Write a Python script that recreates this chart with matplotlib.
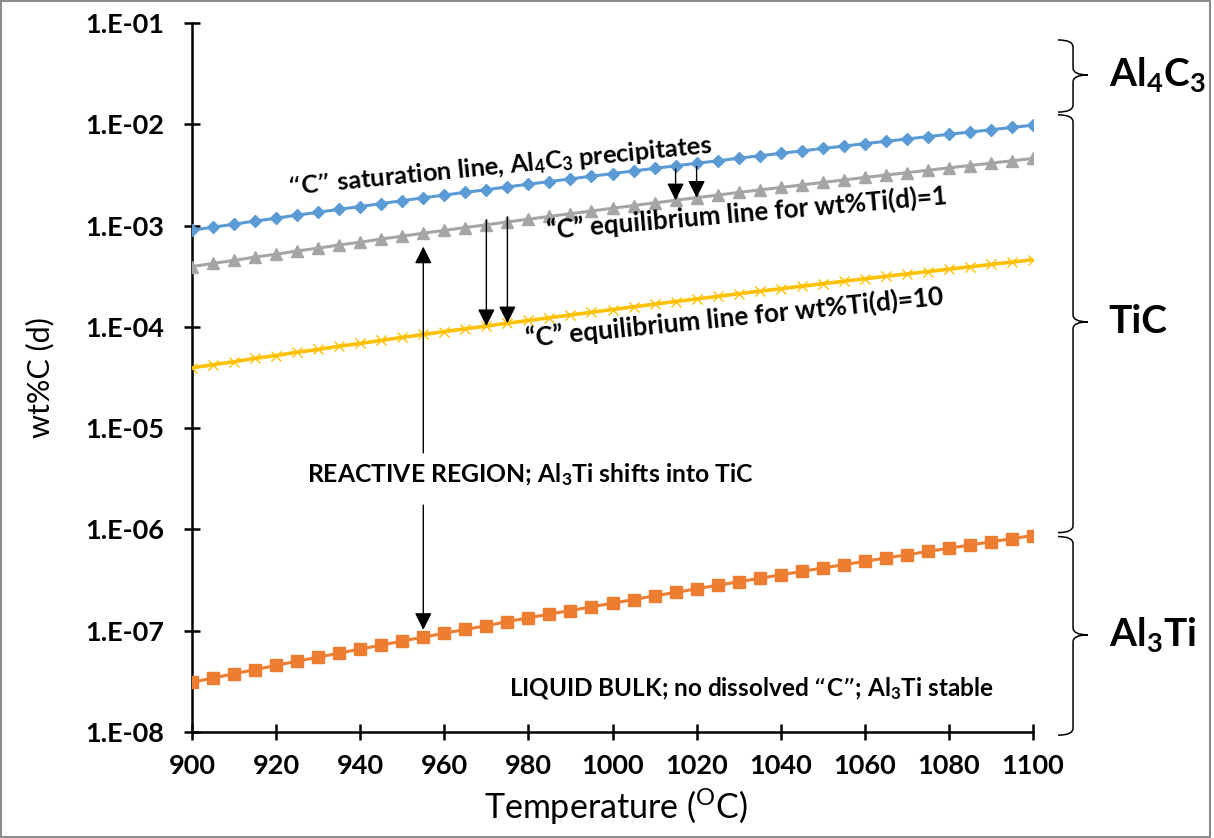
import matplotlib
matplotlib.use('Agg')
import matplotlib.pyplot as plt
from matplotlib.path import Path
from matplotlib.patches import PathPatch, Rectangle
import matplotlib.transforms as mtransforms
import numpy as np

plt.rcParams['font.family'] = ['Lato', 'DejaVu Sans']
plt.rcParams['mathtext.default'] = 'regular'

# ---------------- data ----------------
temperature = [900, 905, 910, 915, 920, 925, 930, 935, 940, 945,
               950, 955, 960, 965, 970, 975, 980, 985, 990, 995,
               1000, 1005, 1010, 1015, 1020, 1025, 1030, 1035, 1040, 1045,
               1050, 1055, 1060, 1065, 1070, 1075, 1080, 1085, 1090, 1095, 1100]

c_saturation = [9.00e-4, 9.64e-4, 1.03e-3, 1.11e-3, 1.18e-3, 1.27e-3, 1.35e-3, 1.45e-3, 1.54e-3, 1.65e-3,
                1.76e-3, 1.88e-3, 2.00e-3, 2.13e-3, 2.26e-3, 2.41e-3, 2.56e-3, 2.72e-3, 2.89e-3, 3.07e-3,
                3.26e-3, 3.46e-3, 3.67e-3, 3.89e-3, 4.12e-3, 4.36e-3, 4.62e-3, 4.89e-3, 5.16e-3, 5.46e-3,
                5.77e-3, 6.09e-3, 6.44e-3, 6.79e-3, 7.16e-3, 7.55e-3, 7.96e-3, 8.39e-3, 8.83e-3, 9.31e-3, 9.80e-3]

c_equil_ti1 = [3.94e-4, 4.23e-4, 4.53e-4, 4.89e-4, 5.21e-4, 5.62e-4, 5.98e-4, 6.44e-4, 6.85e-4, 7.36e-4,
               7.86e-4, 8.41e-4, 8.97e-4, 9.57e-4, 1.017e-3, 1.086e-3, 1.156e-3, 1.231e-3, 1.310e-3, 1.393e-3,
               1.482e-3, 1.576e-3, 1.674e-3, 1.778e-3, 1.886e-3, 1.999e-3, 2.122e-3, 2.249e-3, 2.377e-3, 2.519e-3,
               2.666e-3, 2.818e-3, 2.985e-3, 3.152e-3, 3.329e-3, 3.515e-3, 3.712e-3, 3.918e-3, 4.130e-3, 4.360e-3, 4.600e-3]

c_equil_ti10 = [3.94e-5, 4.23e-5, 4.53e-5, 4.89e-5, 5.21e-5, 5.62e-5, 5.98e-5, 6.44e-5, 6.85e-5, 7.36e-5,
                7.86e-5, 8.41e-5, 8.97e-5, 9.57e-5, 1.017e-4, 1.086e-4, 1.156e-4, 1.231e-4, 1.310e-4, 1.393e-4,
                1.482e-4, 1.576e-4, 1.674e-4, 1.778e-4, 1.886e-4, 1.999e-4, 2.122e-4, 2.249e-4, 2.377e-4, 2.519e-4,
                2.666e-4, 2.818e-4, 2.985e-4, 3.152e-4, 3.329e-4, 3.515e-4, 3.712e-4, 3.918e-4, 4.130e-4, 4.360e-4, 4.600e-4]

c_al3ti = [3.10e-8, 3.41e-8, 3.76e-8, 4.13e-8, 4.55e-8, 5.00e-8, 5.48e-8, 6.01e-8, 6.59e-8, 7.21e-8,
           7.90e-8, 8.65e-8, 9.44e-8, 1.03e-7, 1.12e-7, 1.23e-7, 1.34e-7, 1.46e-7, 1.58e-7, 1.72e-7,
           1.87e-7, 2.03e-7, 2.21e-7, 2.39e-7, 2.59e-7, 2.81e-7, 3.04e-7, 3.29e-7, 3.56e-7, 3.85e-7,
           4.16e-7, 4.49e-7, 4.84e-7, 5.22e-7, 5.62e-7, 6.06e-7, 6.52e-7, 7.01e-7, 7.55e-7, 8.11e-7, 8.71e-7]

x_ticks = [900, 920, 940, 960, 980, 1000, 1020, 1040, 1060, 1080, 1100]
y_ticks = [1e-8, 1e-7, 1e-6, 1e-5, 1e-4, 1e-3, 1e-2, 1e-1]
y_tick_labels = ['1.E-08', '1.E-07', '1.E-06', '1.E-05', '1.E-04', '1.E-03', '1.E-02', '1.E-01']

# phase region braces: (top, tip, bottom) in wt%C, and labels
brace_ranges = [(6.8e-2, 3.07e-2, 1.32e-2), (1.24e-2, 1.12e-4, 9.3e-7), (8.5e-7, 9.1e-8, 9.3e-9)]
brace_labels = ['Al$_4$C$_3$', 'TiC', 'Al$_3$Ti']

# ---------------- figure ----------------
W, H = 1214, 838
fig = plt.figure(figsize=(W / 100, H / 100), dpi=100)
ax = fig.add_axes([192 / W, (H - 732) / H, (1033 - 192) / W, (732 - 23) / H])

ax.plot(temperature, c_al3ti, color='#ED7D31', lw=2.2, marker='s', ms=8, mec='#ED7D31', zorder=3)
ax.plot(temperature, c_saturation, color='#5B9BD5', lw=2.2, marker='D', ms=6.3, mec='#5B9BD5', zorder=3)
ax.plot(temperature, c_equil_ti1, color='#A5A5A5', lw=2.2, marker='^', ms=9, mec='#A5A5A5', zorder=3)
ax.plot(temperature, c_equil_ti10, color='#FFC000', lw=2.6, marker='x', ms=7, mew=1.0, mec='#FFC000', zorder=3)

ax.set_yscale('log')
ax.set_xlim(900, 1100)
ax.set_ylim(1e-8, 1e-1)
ax.set_xticks(x_ticks)
ax.set_xticklabels([str(v) for v in x_ticks])
ax.set_yticks(y_ticks)
ax.set_yticklabels(y_tick_labels)
ax.yaxis.set_minor_locator(matplotlib.ticker.NullLocator())

for s in ['top', 'right']:
    ax.spines[s].set_visible(False)
for s in ['left', 'bottom']:
    ax.spines[s].set_linewidth(1.8)
ax.tick_params(axis='both', direction='inout', length=11.5, width=1.8, color='black')
ax.tick_params(axis='y', pad=14)
ax.tick_params(axis='x', pad=10)
for lab in ax.get_xticklabels() + ax.get_yticklabels():
    lab.set_fontsize(19.5)
    lab.set_fontweight('bold')

ax.set_ylabel('wt%C (d)', fontsize=22)
ax.yaxis.set_label_coords(-0.164, 0.5)
ax.set_xlabel('Temperature ($^{O}$C)', fontsize=24.5)
ax.xaxis.set_label_coords(0.504, -0.078)

# ---------------- annotations ----------------
ax.text(973.2, 3.85e-3, '“C” saturation line, Al$_4$C$_3$ precipitates', fontsize=18.3, fontweight='bold',
        rotation=5.7, rotation_mode='anchor', ha='center', va='center', zorder=5)
ax.text(1032, 1.33e-3, '“C” equilibrium line for wt%Ti(d)=1', fontsize=18.6, fontweight='bold',
        rotation=5.0, rotation_mode='anchor', ha='center', va='center', zorder=5)
ax.text(1029, 1.24e-4, '“C” equilibrium line for wt%Ti(d)=10', fontsize=18.8, fontweight='bold',
        rotation=5.8, rotation_mode='anchor', ha='center', va='center', zorder=5)
ax.text(980.4, 3.44e-6, 'REACTIVE REGION; Al$_3$Ti shifts into TiC', fontsize=17.8, fontweight='bold',
        ha='center', va='center', zorder=5)
ax.text(1033, 2.67e-8, 'LIQUID BULK; no dissolved “C”; Al$_3$Ti stable', fontsize=17.5, fontweight='bold',
        ha='center', va='center', zorder=5)

arrow_kw = dict(arrowstyle='-|>', color='black', lw=1.0, mutation_scale=26, shrinkA=0, shrinkB=0)
# saturation -> equilibrium (Ti=1)
for i in (23, 24):
    ax.annotate('', xy=(temperature[i], c_equil_ti1[i]), xytext=(temperature[i], c_saturation[i] * 0.93),
                arrowprops=arrow_kw, zorder=6)
# equilibrium Ti=1 -> Ti=10
for i in (14, 15):
    ax.annotate('', xy=(temperature[i], c_equil_ti10[i]), xytext=(temperature[i], c_equil_ti1[i] * 1.12),
                arrowprops=arrow_kw, zorder=6)
# reactive region arrows
ax.annotate('', xy=(955, 6.2e-4), xytext=(955, 5.7e-6), arrowprops=arrow_kw, zorder=6)
ax.annotate('', xy=(955, 1.02e-7), xytext=(955, 1.74e-6), arrowprops=arrow_kw, zorder=6)

# ---------------- braces ----------------
trans = mtransforms.blended_transform_factory(ax.transAxes, ax.transData)
x_end, x_line, x_tip = 1.0297, 1.0476, 1.0654
r = 0.07
for (top, mid, bot), lab in zip(brace_ranges, brace_labels):
    lt, lm, lb = np.log10(top), np.log10(mid), np.log10(bot)
    verts = [(x_end, top), (x_line, top), (x_line, 10 ** (lt - r)),
             (x_line, 10 ** (lm + r)),
             (x_line, mid), (x_tip, mid),
             (x_line, mid), (x_line, 10 ** (lm - r)),
             (x_line, 10 ** (lb + r)),
             (x_line, bot), (x_end, bot)]
    codes = [Path.MOVETO, Path.CURVE3, Path.CURVE3, Path.LINETO,
             Path.CURVE3, Path.CURVE3, Path.CURVE3, Path.CURVE3,
             Path.LINETO, Path.CURVE3, Path.CURVE3]
    patch = PathPatch(Path(verts, codes), transform=trans, fill=False, lw=1.1, ec='black', clip_on=False)
    ax.add_patch(patch)
    ax.text(1.09, mid, lab, transform=trans, fontsize=28, fontweight='bold', ha='left', va='center',
            clip_on=False)

# figure border
fig.patches.append(Rectangle((0.5 / W, 1.5 / H), (W - 5) / W, (H - 3) / H, transform=fig.transFigure,
                             fill=False, ec='#8c8c8c', lw=1.5))

fig.savefig('out.png', dpi=100)
